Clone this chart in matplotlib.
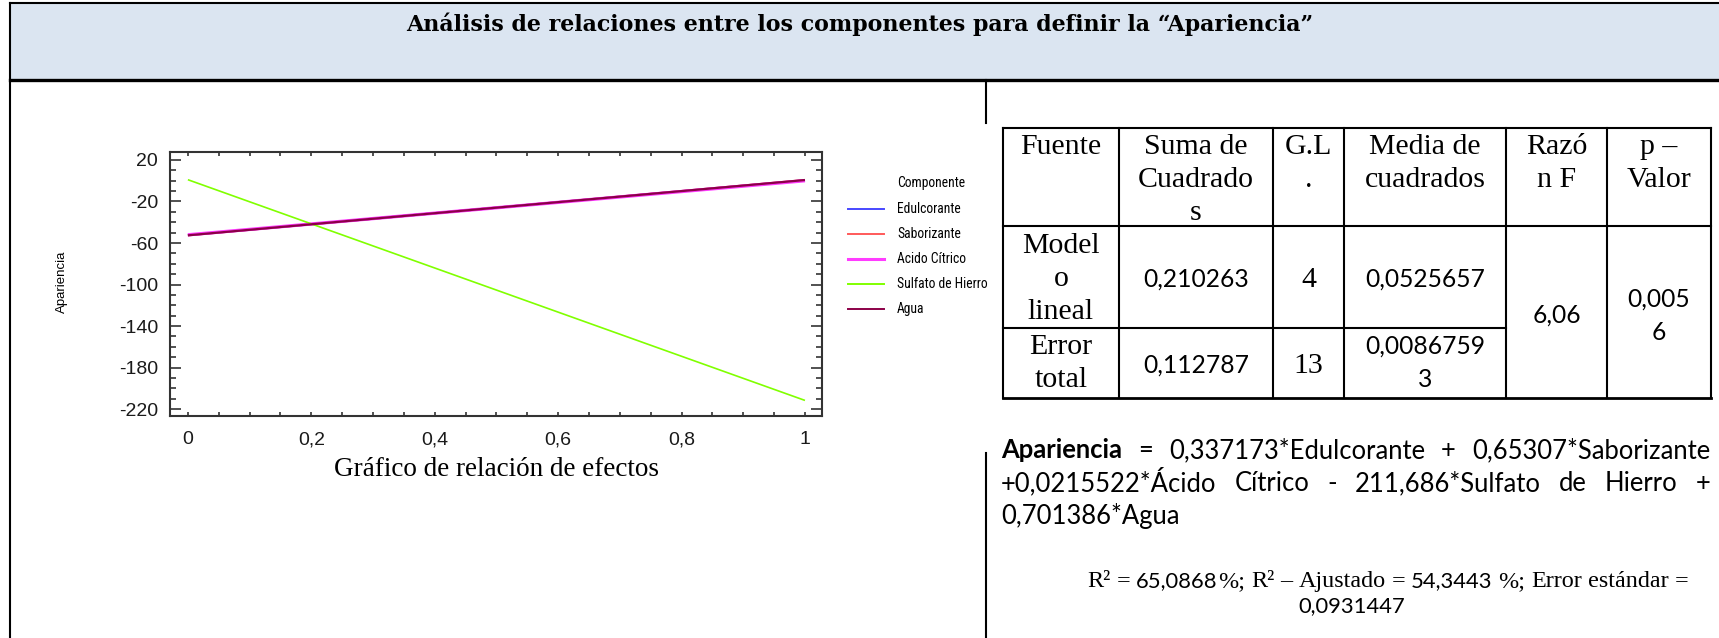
import matplotlib
matplotlib.use("Agg")
import matplotlib.pyplot as plt
from matplotlib.lines import Line2D
from matplotlib.patches import Rectangle
from matplotlib.ticker import MultipleLocator, FixedLocator, FuncFormatter
from matplotlib.font_manager import FontProperties, fontManager

W, H, DPI = 1719, 638, 100

_faces = [(f.name, f.stretch) for f in fontManager.ttflist]
_names = {n for n, _ in _faces}


def pick(name, fallback):
    return name if name in _names else fallback


def narrow_face():
    for name, stretch in [("Liberation Sans Narrow", None), ("Roboto Condensed", None),
                          ("DejaVu Sans", "condensed"), ("Noto Sans", "condensed"),
                          ("Open Sans", "condensed")]:
        for n, s in _faces:
            if n == name and (stretch is None or str(s) in ("condensed", "semi-condensed", "75", "87.5")):
                return name, (stretch or "normal")
    return "Liberation Sans", "normal"


SANS = "Liberation Sans"
NARROW, NARROW_STRETCH = narrow_face()
SERIF = "Liberation Serif"
TITLE_SERIF = "DejaVu Serif"
BODY = pick("Lato", "Liberation Sans")

# ------------------------------------------------------------------ data
title = "Análisis de relaciones entre los componentes para definir la “Apariencia”"

components = ["Edulcorante", "Saborizante", "Acido Cítrico", "Sulfato de Hierro", "Agua"]
line_colors = ["#4848ff", "#ff5a5a", "#ff3cff", "#80ff00", "#8c0048"]
proportion = [0, 1]
effect_at_0 = [-52.3, -52.5, -52.1, 1.0, -52.6]
effect_at_1 = [0.337173, 0.65307, 0.0215522, -211.686, 0.701386]

y_ticks = [20, -20, -60, -100, -140, -180, -220]
x_ticks = [0, 0.2, 0.4, 0.6, 0.8, 1]

anova_header = ["Fuente", "Suma de\nCuadrado\ns", "G.L\n.", "Media de\ncuadrados", "Razó\nn F", "p –\nValor"]
anova_model = ["Model\no\nlineal", "0,210263", "4", "0,0525657"]
anova_error = ["Error\ntotal", "0,112787", "13", "0,0086759\n3"]
f_ratio = "6,06"
p_value = "0,005\n6"

r2 = "65,0868"
r2_adj = "54,3443"
std_error = "0,0931447"

# ------------------------------------------------------------------ helpers
fig = plt.figure(figsize=(W / DPI, H / DPI), dpi=DPI)
renderer = fig.canvas.get_renderer()


def fx(x):
    return x / W


def fy(y):
    return 1 - y / H


def seg(x0, y0, x1, y1, lw):
    fig.add_artist(Line2D([fx(x0), fx(x1)], [fy(y0), fy(y1)], color="black",
                          lw=lw, transform=fig.transFigure, solid_capstyle="projecting"))


def width_of(s, fp):
    t = fig.text(0, 0, s, fontproperties=fp)
    w = t.get_window_extent(renderer).width
    t.remove()
    return w


def space_of(fp):
    return width_of("n n", fp) - width_of("nn", fp)


def put(x, y, s, fp, ha="left", va="baseline"):
    fig.text(fx(x), fy(y), s, fontproperties=fp, ha=ha, va=va, color="black")


def lines_at(xc, y0, text, fp, step=33):
    for i, ln in enumerate(text.split("\n")):
        put(xc, y0 + i * step, ln, fp, ha="center")


def layout_runs(runs):
    items, x = [], 0.0
    for txt, fp in runs:
        sp = space_of(fp)
        for i, part in enumerate(txt.split(" ")):
            if i > 0:
                x += sp
            if part:
                items.append((x, part, fp))
                x += width_of(part, fp)
    return items, x


def justified(words, x0, x1, y):
    widths = [width_of(w, fp) for w, fp in words]
    gap = (x1 - x0 - sum(widths)) / (len(words) - 1)
    x = x0
    for (w, fp), wd in zip(words, widths):
        put(x, y, w, fp)
        x += wd + gap


# ------------------------------------------------------------------ frame
fig.add_artist(Rectangle((fx(10), fy(80)), fx(W) - fx(10), 77 / H,
                         transform=fig.transFigure, facecolor="#dbe5f1", edgecolor="none"))
seg(10, 3, W, 3, 1.5)
seg(10, 80, W, 80, 2.4)
seg(10, 3, 10, H, 1.5)
seg(986, 80, 986, 123, 1.5)
seg(986, 453, 986, H, 1.5)

base = FontProperties(family=TITLE_SERIF, weight="bold", size=15)
title_fp = FontProperties(family=TITLE_SERIF, weight="bold",
                          size=15 * 915 / width_of(title, base))
put(860, 31, title, title_fp, ha="center")

# ------------------------------------------------------------------ chart
ax = fig.add_axes([fx(170), fy(416), (822 - 170) / W, (416 - 152) / H])
for name, col, y0, y1 in zip(components, line_colors, effect_at_0, effect_at_1):
    lw = 2.4 if name == "Acido Cítrico" else (1.2 if name == "Sulfato de Hierro" else 1.6)
    ax.plot(proportion, [y0, y1], color=col, lw=lw, solid_capstyle="butt")

ax.set_xlim(-0.029, 1.0276)
ax.set_ylim(-226.7, 27.7)
ax.yaxis.set_major_locator(FixedLocator(y_ticks))
ax.yaxis.set_minor_locator(MultipleLocator(10))
ax.xaxis.set_major_locator(FixedLocator(x_ticks))
ax.xaxis.set_minor_locator(MultipleLocator(0.05))
ax.xaxis.set_major_formatter(FuncFormatter(lambda v, p: f"{v:g}".replace(".", ",")))
ax.yaxis.set_major_formatter(FuncFormatter(lambda v, p: f"{v:g}"))
for sp in ax.spines.values():
    sp.set_color("#333333")
    sp.set_linewidth(1.5)
ax.tick_params(axis="y", which="major", direction="in", length=8, width=1.2,
               left=True, right=True, labelsize=14, pad=8.5, colors="#333333",
               labelcolor="#1a1a1a")
ax.tick_params(axis="y", which="minor", direction="in", length=4.3, width=1.2,
               left=True, right=True, colors="#333333")
ax.tick_params(axis="x", which="both", direction="in", length=3, width=1.2,
               top=True, bottom=True, labelsize=14, pad=11, colors="#333333",
               labelcolor="#1a1a1a")
for lab in ax.get_xticklabels() + ax.get_yticklabels():
    lab.set_family(SANS)

fig.text(fx(62), fy(282), "Apariencia", rotation=90, ha="center", va="center",
         fontsize=9.5, family=SANS)
fig.text(fx(496), fy(470), "Gráfico de relación de efectos", ha="center", va="center",
         fontsize=19.5, family=SERIF)

# legend (condensed labels, sized so "Edulcorante" spans about 64 px)
probe = FontProperties(family=NARROW, stretch=NARROW_STRETCH, size=10)
leg_size = min(10 * 64 / width_of("Edulcorante", probe), 12)
leg_fp = FontProperties(family=NARROW, stretch=NARROW_STRETCH, size=leg_size)
put(897, 183, "Componente", leg_fp, va="center")
for i, (name, col) in enumerate(zip(components, line_colors)):
    yy = 209 + 25 * i
    fig.add_artist(Line2D([fx(848), fx(884)], [fy(yy), fy(yy)], color=col,
                          lw=2.2 if name == "Acido Cítrico" else 1.4,
                          transform=fig.transFigure))
    put(897, yy, name, leg_fp, va="center")

# ------------------------------------------------------------------ ANOVA table
cols = [1003, 1119, 1273, 1344, 1506, 1607, 1711]
top, head_bot, model_bot, bot = 128, 226, 328, 398
serif_fp = FontProperties(family=SERIF, size=21.5)
num_fp = FontProperties(family=BODY, size=17.7)

seg(cols[0], top, cols[-1], top, 1.5)
seg(cols[0], head_bot, cols[-1], head_bot, 1.5)
seg(cols[0], model_bot, cols[4], model_bot, 1.5)
seg(cols[0], bot, cols[-1], bot, 2.0)
for c in cols:
    seg(c, top, c, bot, 1.5)

mid = [(a + b) / 2 for a, b in zip(cols[:-1], cols[1:])]
for xc, txt in zip(mid, anova_header):
    lines_at(xc, 154, txt, serif_fp)

row_fonts = [serif_fp, num_fp, serif_fp, num_fp]
lines_at(mid[0], 253, anova_model[0], serif_fp)
for xc, txt, fp in zip(mid[1:4], anova_model[1:], row_fonts[1:]):
    lines_at(xc, 287, txt, fp)

lines_at(mid[0], 354, anova_error[0], serif_fp)
lines_at(mid[1], 373, anova_error[1], num_fp)
lines_at(mid[2], 373, anova_error[2], serif_fp)
lines_at(mid[3], 354, anova_error[3], num_fp)

lines_at(mid[4], 323, f_ratio, num_fp)
lines_at(mid[5], 307, p_value, num_fp)

# ------------------------------------------------------------------ model equation


def coef(i):
    return f"{abs(effect_at_1[i]):.7g}".replace(".", ",")


def eq_fonts(size):
    return (FontProperties(family=BODY, size=size),
            FontProperties(family=BODY, size=size, weight="bold"))


def eq_lines(reg, bold):
    first = [("Apariencia", bold), ("=", reg), (f"{coef(0)}*Edulcorante", reg),
             ("+", reg), (f"{coef(1)}*Saborizante", reg)]
    second = [(f"+{coef(2)}*Ácido", reg), ("Cítrico", reg), ("-", reg),
              (f"{coef(3)}*Sulfato", reg), ("de", reg), ("Hierro", reg), ("+", reg)]
    return first, second


reg, bold = eq_fonts(17.7)
first, _ = eq_lines(reg, bold)
natural = sum(width_of(w, fp) for w, fp in first) + 4 * space_of(reg)
eq_size = 17.7 * 672 / natural
reg, bold = eq_fonts(eq_size)
first, second = eq_lines(reg, bold)
justified(first, 1001, 1710, 458)
justified(second, 1001, 1710, 491)
put(1001, 524, f"{coef(4)}*Agua", reg)


def stats_runs(s_serif, s_num):
    sf = FontProperties(family=SERIF, size=s_serif)
    nf = FontProperties(family=BODY, size=s_num)
    return [("R² = ", sf), (r2, nf), ("%; R² – Ajustado = ", sf),
            (r2_adj, nf), (" %; Error estándar =", sf)], nf


runs, _ = stats_runs(17.0, 15.5)
_, total = layout_runs(runs)
k = 600 / total
runs, st_num = stats_runs(17.0 * k, 15.5 * k)
items, total = layout_runs(runs)
x0 = 1388 - total / 2
for off, s, fp in items:
    put(x0 + off, 587, s, fp)
put(1352, 612, std_error, st_num, ha="center")

fig.savefig("out.png", dpi=DPI)
